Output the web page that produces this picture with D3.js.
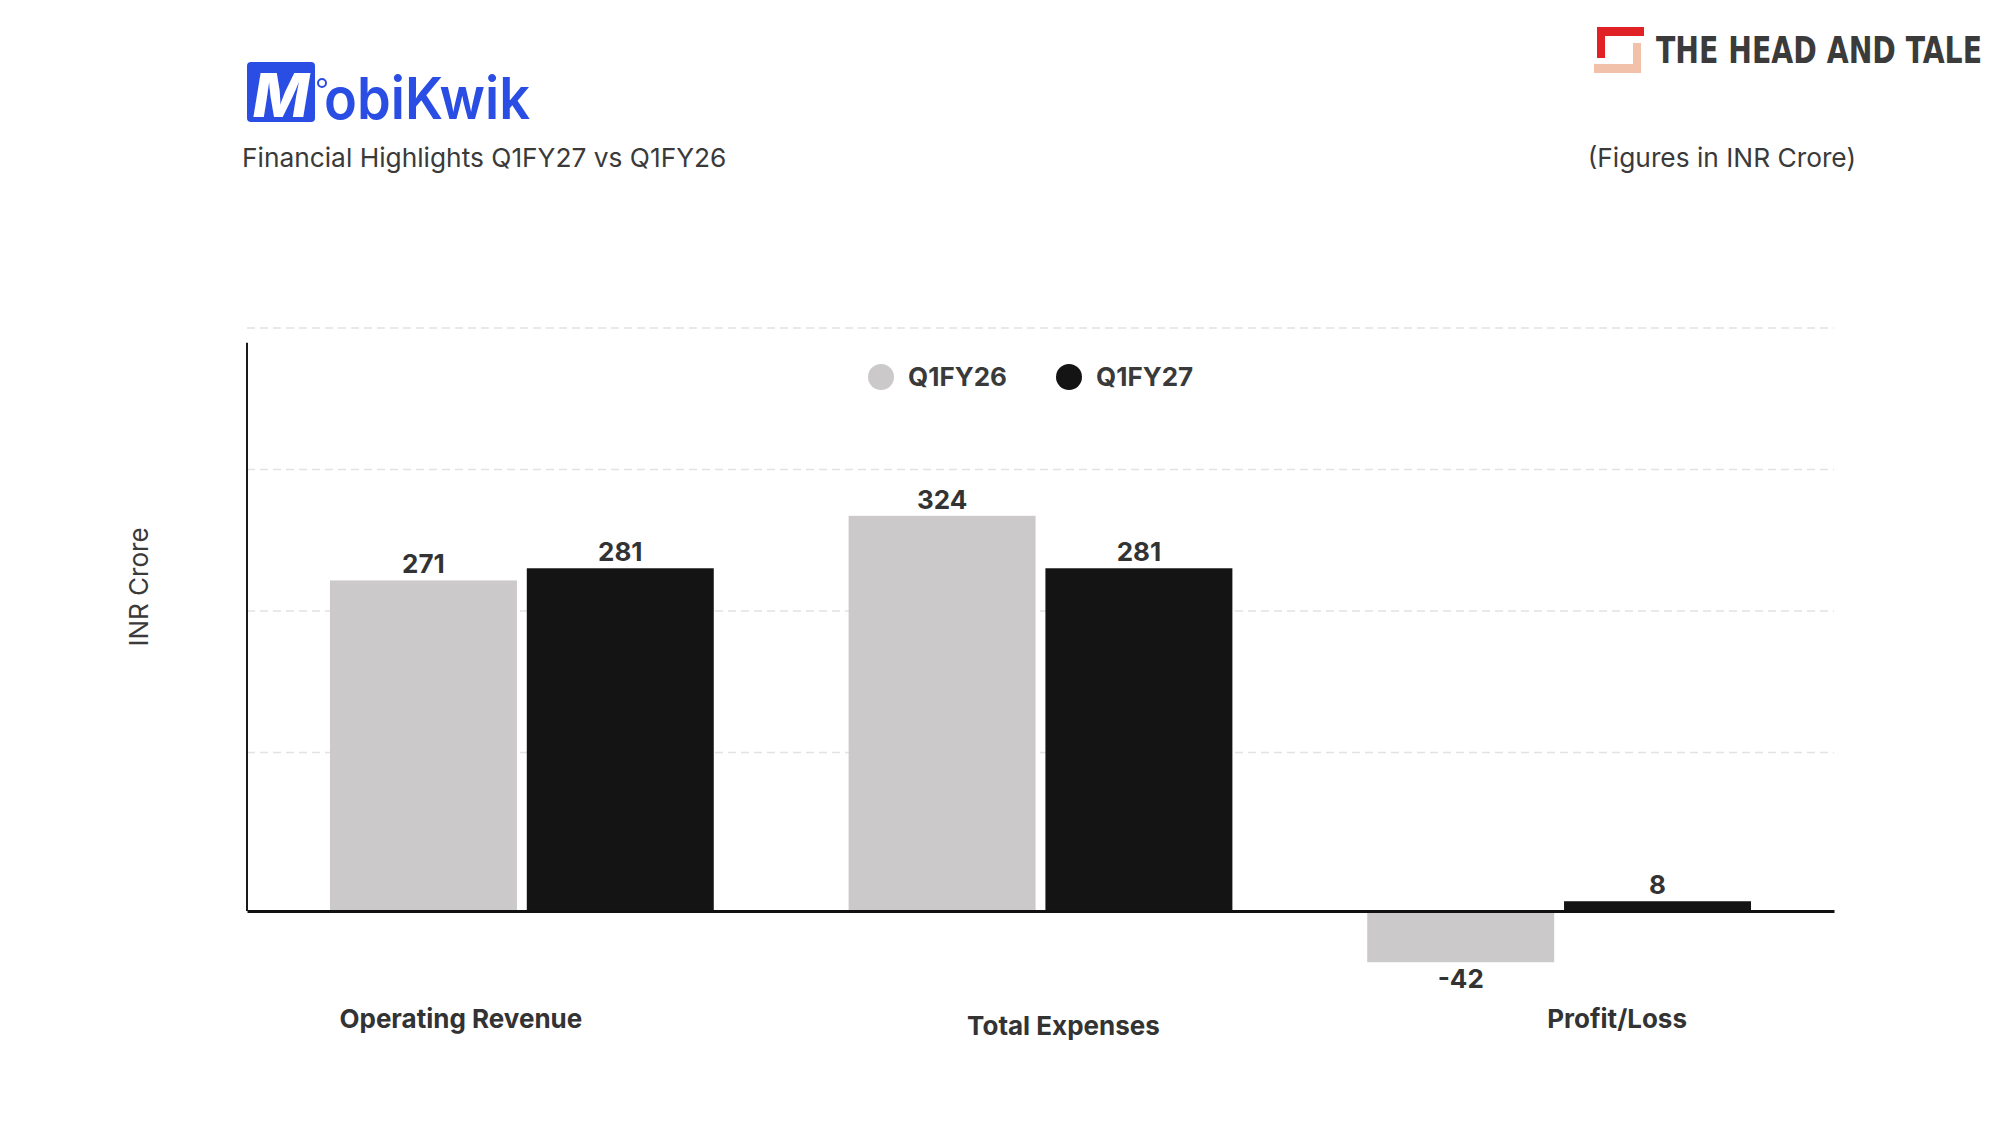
<!DOCTYPE html>
<html>
<head>
<meta charset="utf-8">
<script src="https://cdn.jsdelivr.net/npm/d3@7"></script>
<style>
  body { margin: 0; background: #fff; }
  svg { display: block; font-family: Inter, "Noto Sans", sans-serif; }
</style>
</head>
<body>
<div id="chart"></div>
<script>
// data (INR Crore)
const categories = ['Operating Revenue', 'Total Expenses', 'Profit/Loss'];
const seriesNames = ['Q1FY26', 'Q1FY27'];
const q1fy26 = [271, 324, -42];
const q1fy27 = [281, 281, 8];
const gridValues = [130, 246, 362, 478];

const colors = { Q1FY26: '#cbc9c9', Q1FY27: '#141414' };
const catLabelDx = [-61, 23, 58];   // labels sit a bit off-centre in the original
const catLabelDy = [0, 7, 0];

const W = 2000, H = 1132;
const svg = d3.select('#chart').append('svg')
  .attr('width', W)
  .attr('height', H);

const left = 247, right = 1834;
const y = d3.scaleLinear().domain([0, 478]).range([911, 328]);
const axisTop = 466;

const x0 = d3.scaleBand()
  .domain(categories)
  .range([left, right])
  .paddingInner(0.26)
  .paddingOuter(0.16);
const x1 = d3.scaleBand()
  .domain(seriesNames)
  .range([0, x0.bandwidth()])
  .paddingInner(0.05);

const rows = categories.map((c, i) => ({
  cat: c,
  i: i,
  values: [
    { key: 'Q1FY26', value: q1fy26[i] },
    { key: 'Q1FY27', value: q1fy27[i] }
  ]
}));

// header: MobiKwik logo
const logo = svg.append('g');
logo.append('rect')
  .attr('x', 247).attr('y', 62)
  .attr('width', 68).attr('height', 60)
  .attr('rx', 4)
  .attr('fill', '#2a4ee3');
logo.append('text')
  .attr('x', 281).attr('y', 117)
  .attr('text-anchor', 'middle')
  .style('font-size', '60px')
  .style('font-weight', 800)
  .style('font-style', 'italic')
  .attr('fill', '#fff')
  .text('M');
logo.append('circle')
  .attr('cx', 322).attr('cy', 83).attr('r', 4)
  .attr('fill', 'none')
  .attr('stroke', '#2a4ee3')
  .attr('stroke-width', 2);
logo.append('text')
  .attr('x', 324).attr('y', 119)
  .attr('textLength', 206)
  .attr('lengthAdjust', 'spacingAndGlyphs')
  .style('font-size', '58px')
  .style('font-weight', 600)
  .attr('fill', '#2a4ee3')
  .text('obiKwik');

svg.append('text')
  .attr('x', 242).attr('y', 167)
  .style('font-size', '26.3px')
  .attr('fill', '#3a3a3a')
  .text('Financial Highlights Q1FY27 vs Q1FY26');

svg.append('text')
  .attr('x', 1856).attr('y', 167)
  .attr('text-anchor', 'end')
  .style('font-size', '26.3px')
  .attr('fill', '#3a3a3a')
  .text('(Figures in INR Crore)');

// THE HEAD AND TALE mark
const brand = svg.append('g');
brand.append('path')
  .attr('d', 'M1597,27H1644V36H1605V58H1597Z')
  .attr('fill', '#e02226');
brand.append('path')
  .attr('d', 'M1633,43H1641V73H1594V64H1633Z')
  .attr('fill', '#f2c1a9');
brand.append('text')
  .attr('transform', 'translate(1656,63) scale(1,1.16)')
  .attr('textLength', 326)
  .attr('lengthAdjust', 'spacingAndGlyphs')
  .style('font-family', '"DejaVu Sans Condensed", "DejaVu Sans", sans-serif')
  .style('font-size', '32px')
  .style('font-weight', 700)
  .attr('fill', '#3b3b3b')
  .text('THE HEAD AND TALE');

// gridlines
svg.append('g')
  .selectAll('line')
  .data(gridValues)
  .join('line')
  .attr('x1', left).attr('x2', right)
  .attr('y1', d => y(d)).attr('y2', d => y(d))
  .attr('stroke', '#e2e2e2')
  .attr('stroke-width', 1.5)
  .attr('stroke-dasharray', '8,5');

// y axis title
svg.append('text')
  .attr('transform', 'translate(148,587) rotate(-90)')
  .attr('text-anchor', 'middle')
  .style('font-size', '26px')
  .attr('fill', '#3a3a3a')
  .text('INR Crore');

// legend
const legend = svg.append('g');
const legendX = [881, 1069];
seriesNames.forEach((s, i) => {
  legend.append('circle')
    .attr('cx', legendX[i]).attr('cy', 377)
    .attr('r', 13)
    .attr('fill', colors[s]);
  legend.append('text')
    .attr('x', legendX[i] + 27).attr('y', 386)
    .style('font-size', '26px')
    .style('font-weight', 700)
    .attr('fill', '#3a3a3a')
    .text(s);
});

// bars
const groups = svg.append('g')
  .selectAll('g')
  .data(rows)
  .join('g')
  .attr('transform', d => `translate(${x0(d.cat)},0)`);

groups.selectAll('rect')
  .data(d => d.values)
  .join('rect')
  .attr('x', d => x1(d.key))
  .attr('y', d => y(Math.max(0, d.value)))
  .attr('width', x1.bandwidth())
  .attr('height', d => Math.abs(y(d.value) - y(0)))
  .attr('fill', d => colors[d.key]);

groups.selectAll('text')
  .data(d => d.values)
  .join('text')
  .attr('x', d => x1(d.key) + x1.bandwidth() / 2)
  .attr('y', d => d.value >= 0 ? y(d.value) - 7 : y(d.value) + 26)
  .attr('text-anchor', 'middle')
  .style('font-size', '26px')
  .style('font-weight', 700)
  .attr('fill', '#333')
  .text(d => d.value);

// axes
svg.append('line')
  .attr('x1', left).attr('x2', left)
  .attr('y1', y(axisTop)).attr('y2', y(0))
  .attr('stroke', '#1a1a1a')
  .attr('stroke-width', 2);

const xAxis = svg.append('g')
  .attr('transform', `translate(0,${y(0)})`)
  .call(d3.axisBottom(x0).tickSize(0).tickFormat(''));
xAxis.select('.domain')
  .attr('stroke', '#111')
  .attr('stroke-width', 3);

svg.append('g')
  .selectAll('text')
  .data(categories)
  .join('text')
  .attr('x', (d, i) => x0(d) + x0.bandwidth() / 2 + catLabelDx[i])
  .attr('y', (d, i) => 1028 + catLabelDy[i])
  .attr('text-anchor', 'middle')
  .style('font-size', '26px')
  .style('font-weight', 700)
  .attr('fill', '#333')
  .text(d => d);
</script>
</body>
</html>
